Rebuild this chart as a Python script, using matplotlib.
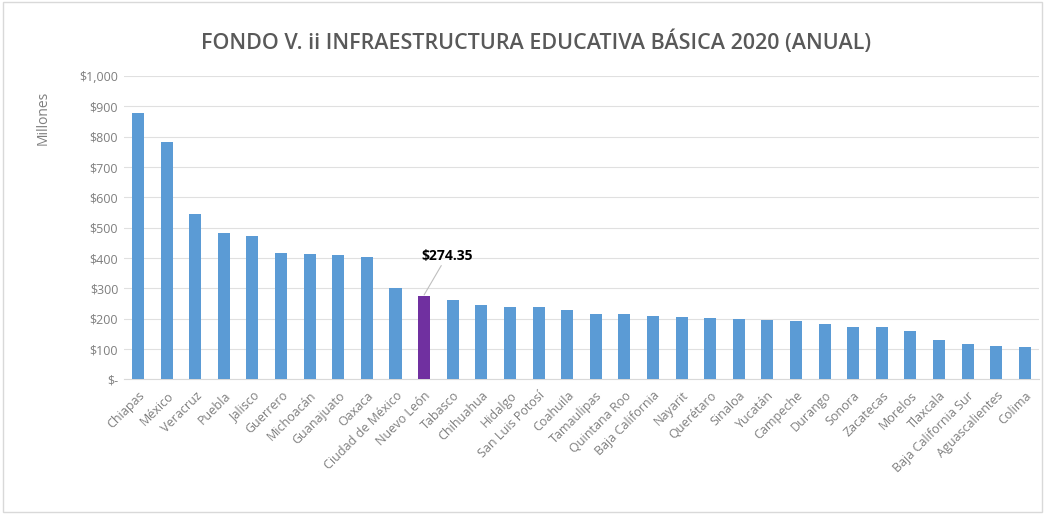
import matplotlib
matplotlib.use("Agg")
import matplotlib.pyplot as plt
from matplotlib.patches import Rectangle

estados = ["Chiapas", "México", "Veracruz", "Puebla", "Jalisco", "Guerrero", "Michoacán",
           "Guanajuato", "Oaxaca", "Ciudad de México", "Nuevo León", "Tabasco", "Chihuahua",
           "Hidalgo", "San Luis Potosí", "Coahuila", "Tamaulipas", "Quintana Roo",
           "Baja California", "Nayarit", "Querétaro", "Sinaloa", "Yucatán", "Campeche",
           "Durango", "Sonora", "Zacatecas", "Morelos", "Tlaxcala", "Baja California Sur",
           "Aguascalientes", "Colima"]
montos = [877, 783, 546, 481, 473, 416, 412, 409, 403, 301, 274.35, 262, 246, 239, 238,
          229, 216, 214, 210, 207, 202, 200, 195, 192, 181, 174, 172, 161, 131, 116, 109, 105]
destacado = "Nuevo León"
yticks = [0, 100, 200, 300, 400, 500, 600, 700, 800, 900, 1000]
ytick_labels = ["$-", "$100", "$200", "$300", "$400", "$500", "$600", "$700", "$800", "$900", "$1,000"]

plt.rcParams['font.family'] = ['Open Sans', 'DejaVu Sans']

fig = plt.figure(figsize=(10.45, 5.14), dpi=100)
fig.patches.append(Rectangle((0.003, 0.004), 0.994, 0.992, transform=fig.transFigure,
                             fill=False, edgecolor='#d9d9d9', linewidth=1))
ax = fig.add_axes([0.1184, 0.262, 0.876, 0.59])

x = list(range(len(estados)))
colors = ['#7030A0' if e == destacado else '#5B9BD5' for e in estados]
ax.bar(x, montos, width=0.42, color=colors, zorder=3)

ax.set_xlim(-0.5, len(estados) - 0.5)
ax.set_ylim(0, 1000)
ax.set_yticks(yticks)
ax.set_yticklabels(ytick_labels, color='#7f7f7f', fontsize=9)
ax.set_xticks(x)
ax.set_xticklabels(estados, rotation=45, ha='right', rotation_mode='anchor',
                   color='#7f7f7f', fontsize=9)
ax.tick_params(axis='both', length=0, pad=4)
ax.tick_params(axis='x', pad=7)
ax.grid(axis='y', color='#e0e0e0', linewidth=0.8, zorder=0)
for s in ['top', 'right', 'left']:
    ax.spines[s].set_visible(False)
ax.spines['bottom'].set_color('#d9d9d9')

i = estados.index(destacado)
v = montos[i]
ax.annotate(f"${v:,.2f}", xy=(i, v + 4), xytext=(i - 0.1, v + 110),
            fontsize=10, fontweight='bold', color='black', ha='left', va='bottom',
            arrowprops=dict(arrowstyle='-', color='#bfbfbf', lw=0.8,
                            shrinkA=0, shrinkB=0))

fig.text(0.041, 0.77, "Millones", rotation=90, ha='center', va='center',
         color='#7f7f7f', fontsize=10)
fig.text(0.513, 0.918, "FONDO V. ii INFRAESTRUCTURA EDUCATIVA BÁSICA 2020 (ANUAL)",
         ha='center', va='center', color='#595959', fontsize=15.5, fontweight='semibold')

fig.savefig("out.png", dpi=100)
